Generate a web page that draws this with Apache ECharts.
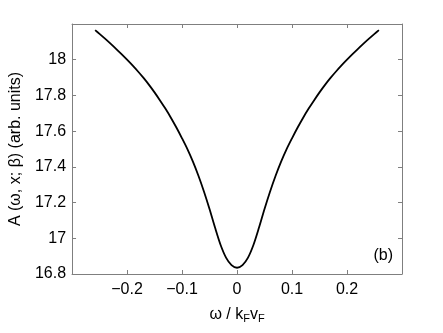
<!DOCTYPE html>
<html>
<head>
<meta charset="utf-8">
<script src="https://cdn.jsdelivr.net/npm/echarts@6/dist/echarts.min.js"></script>
<style>
  html, body { margin: 0; padding: 0; background: #fff; }
  #main { width: 443px; height: 333px; }
</style>
</head>
<body>
<div id="main"></div>
<script>
// omega / kF vF
var omega = [-0.258, -0.25, -0.24, -0.23, -0.22, -0.21, -0.2, -0.19, -0.18, -0.17, -0.16, -0.15, -0.14, -0.13, -0.12, -0.11, -0.1, -0.09, -0.08, -0.07, -0.06, -0.05, -0.04, -0.03, -0.02, -0.01, 0,
  0.01, 0.02, 0.03, 0.04, 0.05, 0.06, 0.07, 0.08, 0.09, 0.1, 0.11, 0.12, 0.13, 0.14, 0.15, 0.16, 0.17, 0.18, 0.19, 0.2, 0.21, 0.22, 0.23, 0.24, 0.25, 0.258];
// A(omega, x; beta)
var amp = [18.166, 18.145, 18.118, 18.09, 18.061, 18.031, 18.0, 17.968, 17.934, 17.898, 17.859, 17.817, 17.772, 17.725, 17.674, 17.619, 17.56, 17.498, 17.428, 17.349, 17.261, 17.164, 17.06, 16.964, 16.892, 16.85, 16.835,
  16.85, 16.892, 16.964, 17.06, 17.164, 17.261, 17.349, 17.428, 17.498, 17.56, 17.619, 17.674, 17.725, 17.772, 17.817, 17.859, 17.898, 17.934, 17.968, 18.0, 18.031, 18.061, 18.09, 18.118, 18.145, 18.166];
var xTicks = [-0.2, -0.1, 0, 0.1, 0.2];
var yTicks = [16.8, 17, 17.2, 17.4, 17.6, 17.8, 18];

var pts = omega.map(function (x, i) { return [x, amp[i]]; });

var myChart = echarts.init(document.getElementById("main"));
var font = "Liberation Sans";
var axisCol = "#7f7f7f";

function near(v, list) {
  return list.some(function (t) { return Math.abs(t - v) < 1e-6; });
}

var baseX = {
  type: "value",
  min: -0.3,
  max: 0.3,
  interval: 0.1,
  axisLine: { show: true, onZero: false, lineStyle: { color: axisCol, width: 1 } },
  axisTick: { show: true, inside: true, length: 4, lineStyle: { color: axisCol } },
  splitLine: { show: false }
};
var baseY = {
  type: "value",
  min: 16.8,
  max: 18.2,
  interval: 0.2,
  axisLine: { show: true, onZero: false, lineStyle: { color: axisCol, width: 1 } },
  axisTick: { show: true, inside: true, length: 4, lineStyle: { color: axisCol } },
  splitLine: { show: false }
};

var option = {
  animation: false,
  grid: { left: 72, right: 41, top: 24, bottom: 59, containLabel: false },
  xAxis: [
    Object.assign({}, baseX, {
      position: "bottom",
      name: "{a|ω / k}{s|F}{a|v}{s|F}",
      nameLocation: "middle",
      nameGap: 31,
      nameTextStyle: {
        rich: {
          a: { fontFamily: font, fontSize: 16, color: "#000" },
          s: { fontFamily: font, fontSize: 11, color: "#000", padding: [8, 0, 0, 0] }
        }
      },
      axisLabel: {
        show: true,
        margin: 8,
        fontFamily: font,
        fontSize: 16,
        color: "#000",
        formatter: function (v) {
          if (!near(v, xTicks)) return "";
          var r = Math.round(v * 10) / 10;
          return r < 0 ? "\u2212" + (-r) : String(r);
        }
      }
    }),
    Object.assign({}, baseX, { position: "top", axisLabel: { show: false } })
  ],
  yAxis: [
    Object.assign({}, baseY, {
      position: "left",
      name: "A (ω, x; β) (arb. units)",
      nameLocation: "middle",
      nameGap: 46,
      nameTextStyle: { fontFamily: font, fontSize: 16, color: "#000" },
      axisLabel: {
        show: true,
        margin: 6,
        fontFamily: font,
        fontSize: 16,
        color: "#000",
        formatter: function (v) {
          if (!near(v, yTicks)) return "";
          return String(Math.round(v * 10) / 10);
        }
      }
    }),
    Object.assign({}, baseY, { position: "right", axisLabel: { show: false } })
  ],
  graphic: [
    {
      type: "text",
      right: 50,
      bottom: 69,
      style: { text: "(b)", fontFamily: font, fontSize: 16, fill: "#000" }
    }
  ],
  series: [
    {
      type: "line",
      data: pts,
      smooth: 0.3,
      showSymbol: false,
      lineStyle: { color: "#000", width: 1.8 }
    }
  ]
};

myChart.setOption(option);
</script>
</body>
</html>
